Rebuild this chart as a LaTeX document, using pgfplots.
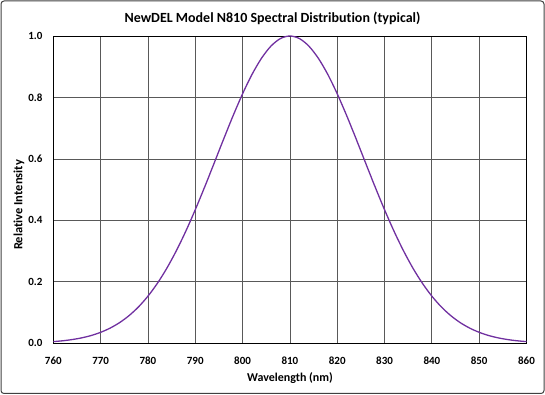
\documentclass[border=0pt]{standalone}
\usepackage{pgfplots}
\pgfplotsset{compat=1.18}
\usepackage{fontspec}
\setmainfont{Carlito}[Ligatures=NoCommon]
\definecolor{curvepurple}{RGB}{112,48,160}
\begin{document}
\begin{tikzpicture}[x=1pt,y=1pt]
\useasboundingbox (0,0) rectangle (545,395);
\draw[rounded corners=3pt, line width=1pt, black!75] (1,1.5) rectangle (544,394);
\begin{axis}[
  at={(53.3pt,51.7pt)}, anchor=south west,
  scale only axis, width=473.2pt, height=307.3pt,
  xmin=760, xmax=860, ymin=0, ymax=1,
  xtick={760,770,...,860},
  ytick={0,0.2,0.4,0.6,0.8,1.0},
  grid=major,
  major grid style={line width=0.8pt, black!65},
  axis line style={line width=0.9pt, black},
  major tick length=0pt,
  /pgf/number format/assume math mode=true,
  ticklabel style={font=\fontsize{11}{13}\selectfont\bfseries},
  xticklabel style={anchor=center, yshift=-17.4pt},
  yticklabel style={anchor=east, inner sep=0pt, xshift=-10.6pt,
    /pgf/number format/.cd, fixed, fixed zerofill, precision=1},
]
\addplot[curvepurple, line width=1.3pt, smooth] coordinates {
(760,0.0055) (762,0.0082) (764,0.0122) (766,0.0177) (768,0.0253)
(770,0.0357) (772,0.0494) (774,0.0672) (776,0.0900) (778,0.1184)
(780,0.1534) (782,0.1953) (784,0.2445) (786,0.3012) (788,0.3648)
(790,0.4346) (792,0.5092) (794,0.5866) (796,0.6648) (798,0.7408)
(800,0.8119) (802,0.8752) (804,0.9277) (806,0.9672) (808,0.9917)
(810,1.0000)
(812,0.9917) (814,0.9672) (816,0.9277) (818,0.8752) (820,0.8119)
(822,0.7408) (824,0.6648) (826,0.5866) (828,0.5092) (830,0.4346)
(832,0.3648) (834,0.3012) (836,0.2445) (838,0.1953) (840,0.1534)
(842,0.1184) (844,0.0900) (846,0.0672) (848,0.0494) (850,0.0357)
(852,0.0253) (854,0.0177) (856,0.0122) (858,0.0082) (860,0.0055)
};
\end{axis}
\node[font=\fontsize{14}{17}\selectfont\bfseries] at (272.5,377) {NewDEL Model N810 Spectral Distribution (typical)};
\node[font=\fontsize{12}{14}\selectfont\bfseries] at (290,17.3) {Wavelength (nm)};
\node[font=\fontsize{12.5}{15}\selectfont\bfseries, rotate=90] at (19,190) {Relative Intensity};
\end{tikzpicture}
\end{document}
